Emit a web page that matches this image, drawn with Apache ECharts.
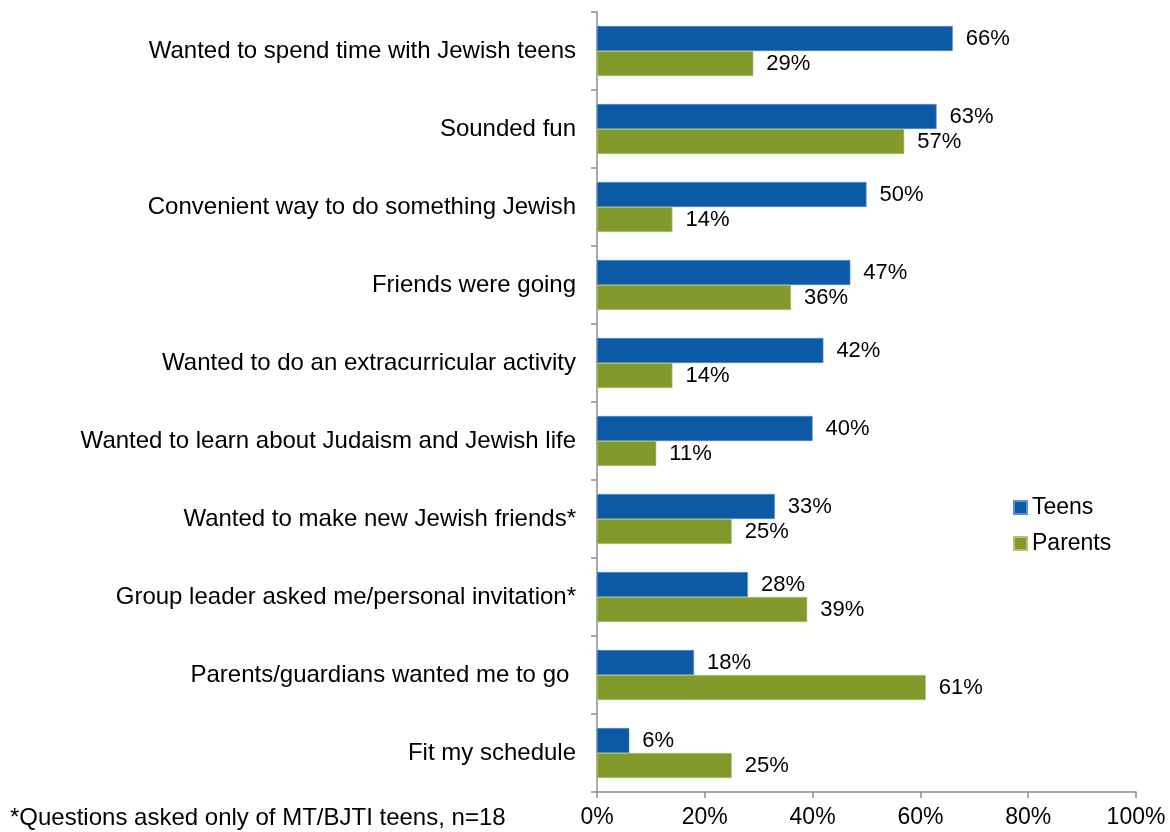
<!DOCTYPE html>
<html>
<head>
<meta charset="utf-8">
<script src="https://cdn.jsdelivr.net/npm/echarts@6/dist/echarts.min.js"></script>
<style>
  html, body { margin: 0; padding: 0; background: #fff; }
  #chart { width: 1170px; height: 832px; }
</style>
</head>
<body>
<div id="chart"></div>
<script>
// Reasons for joining, top to bottom
const categories = [
  'Wanted to spend time with Jewish teens',
  'Sounded fun',
  'Convenient way to do something Jewish',
  'Friends were going',
  'Wanted to do an extracurricular activity',
  'Wanted to learn about Judaism and Jewish life',
  'Wanted to make new Jewish friends*',
  'Group leader asked me/personal invitation*',
  'Parents/guardians wanted me to go ',
  'Fit my schedule'
];
const teens = [66, 63, 50, 47, 42, 40, 33, 28, 18, 6];
const parents = [29, 57, 14, 36, 14, 11, 25, 39, 61, 25];
const footnote = '*Questions asked only of MT/BJTI teens, n=18';

const FONT = '"Liberation Sans", Arial, sans-serif';
const chart = echarts.init(document.getElementById('chart'));

const valueLabel = {
  show: true,
  position: 'right',
  distance: 13,
  formatter: '{c}%',
  color: '#000',
  fontSize: 22,
  fontFamily: FONT
};

chart.setOption({
  animation: false,
  textStyle: { fontFamily: FONT },
  grid: { left: 597, right: 34, top: 12, bottom: 40, containLabel: false },
  legend: {
    orient: 'vertical',
    left: 1013,
    top: 496,
    padding: 0,
    icon: 'rect',
    itemWidth: 13,
    itemHeight: 13,
    itemGap: 13,
    textStyle: { fontSize: 23, color: '#000', fontFamily: FONT },
    data: ['Teens', 'Parents']
  },
  graphic: [{
    type: 'text',
    left: 10,
    top: 806,
    style: { text: footnote, fontSize: 24, fill: '#000', fontFamily: FONT }
  }],
  xAxis: {
    type: 'value',
    min: 0,
    max: 100,
    interval: 20,
    axisLine: { show: true, lineStyle: { color: '#8c8c8c', width: 1.5 } },
    axisTick: { show: true, length: 6, lineStyle: { color: '#8c8c8c', width: 1.5 } },
    splitLine: { show: false },
    axisLabel: { formatter: '{value}%', fontSize: 23, color: '#000', margin: 14, fontFamily: FONT }
  },
  yAxis: {
    type: 'category',
    inverse: true,
    data: categories,
    axisLine: { show: true, lineStyle: { color: '#8c8c8c', width: 1.5 } },
    axisTick: { show: true, length: 6, lineStyle: { color: '#8c8c8c', width: 1.5 } },
    axisLabel: { fontSize: 24, color: '#000', margin: 21, fontFamily: FONT }
  },
  series: [
    {
      name: 'Teens',
      type: 'bar',
      data: teens,
      barWidth: 25,
      barGap: '0%',
      barCategoryGap: '36%',
      itemStyle: { color: '#0C59A5', borderColor: '#5b8fcf', borderWidth: 0.6 },
      label: valueLabel
    },
    {
      name: 'Parents',
      type: 'bar',
      data: parents,
      barWidth: 25,
      barGap: '0%',
      itemStyle: { color: '#829A2C', borderColor: '#b3c27a', borderWidth: 0.6 },
      label: valueLabel
    }
  ]
});
</script>
</body>
</html>
